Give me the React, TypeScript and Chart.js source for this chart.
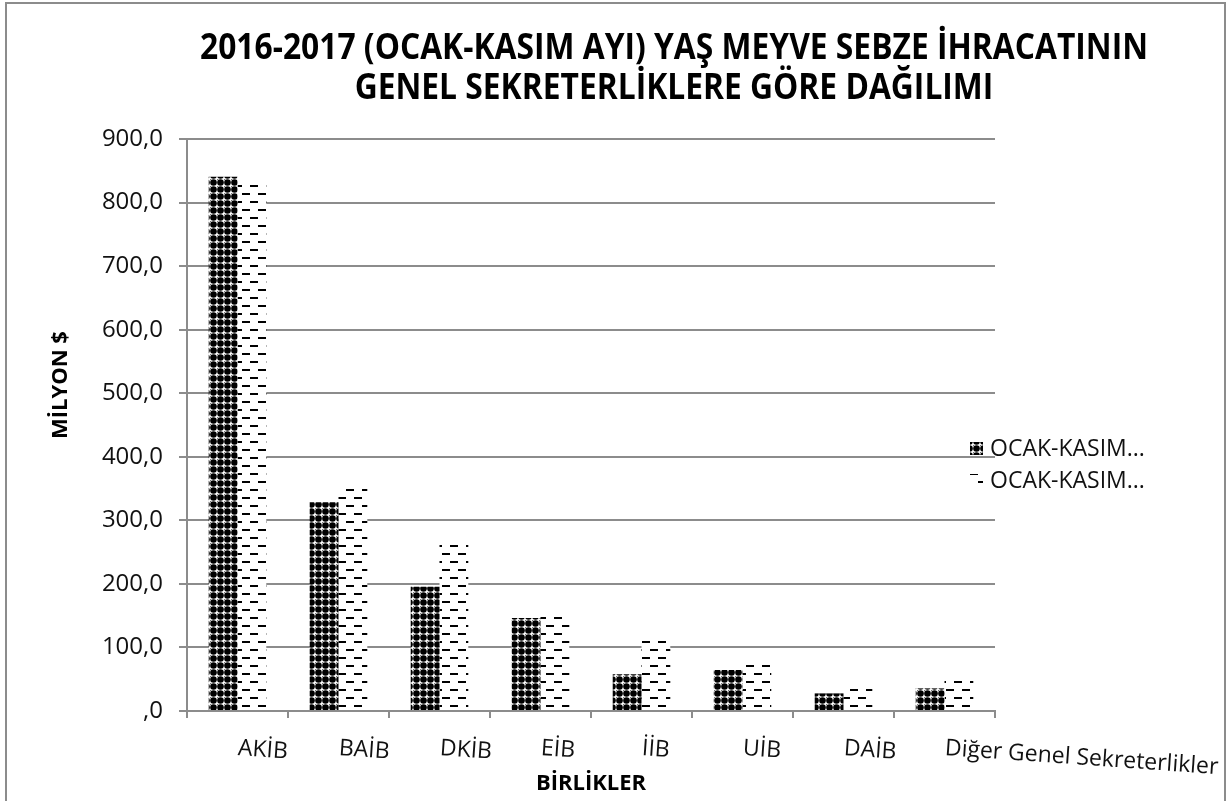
import React, { useEffect, useRef } from 'react';
import { Chart, registerables } from 'chart.js';

Chart.register(...registerables);

const categories = ['AKİB', 'BAİB', 'DKİB', 'EİB', 'İİB', 'UİB', 'DAİB', 'Diğer Genel Sekreterlikler'];
const seriesNames = ['OCAK-KASIM 2016', 'OCAK-KASIM 2017'];
const legendTexts = ['OCAK-KASIM...', 'OCAK-KASIM...'];
const values2016 = [840.7, 328.5, 195.5, 146.5, 57.7, 64.4, 27.7, 35.6];
const values2017 = [833, 353, 263, 151, 114, 76, 38, 51];
const yMin = 0;
const yMax = 900;
const yStep = 100;
const titleLines = [
  '2016-2017 (OCAK-KASIM AYI) YAŞ MEYVE SEBZE İHRACATININ',
  'GENEL SEKRETERLİKLERE GÖRE DAĞILIMI',
];
const xAxisTitle = 'BİRLİKLER';
const yAxisTitle = 'MİLYON $';

const FONT = '"Open Sans", sans-serif';
const W = 1217;
const H = 797;
const GRID = '#8c8c8c';

function checkPattern(ctx: CanvasRenderingContext2D): CanvasPattern {
  const c = document.createElement('canvas');
  c.width = 7;
  c.height = 7;
  const g = c.getContext('2d')!;
  g.fillStyle = '#ffffff';
  g.fillRect(0, 0, 7, 7);
  g.fillStyle = '#000000';
  g.beginPath();
  g.arc(3.5, 3.5, 3.3, 0, Math.PI * 2);
  g.fill();
  g.fillStyle = '#777777';
  g.fillRect(0, 0, 1, 1);
  return ctx.createPattern(c, 'repeat')!;
}

function dashPattern(ctx: CanvasRenderingContext2D): CanvasPattern {
  const c = document.createElement('canvas');
  c.width = 16;
  c.height = 16;
  const g = c.getContext('2d')!;
  g.fillStyle = '#ffffff';
  g.fillRect(0, 0, 16, 16);
  g.fillStyle = '#000000';
  g.fillRect(3, 5, 8, 2);
  g.fillRect(11, 13, 5, 2);
  g.fillRect(0, 13, 3, 2);
  return ctx.createPattern(c, 'repeat')!;
}

function fmt(v: number): string {
  if (v === 0) return ',0';
  return v.toFixed(1).replace('.', ',');
}

export default function App() {
  const ref = useRef<HTMLCanvasElement>(null);

  useEffect(() => {
    const canvas = ref.current!;
    const ctx = canvas.getContext('2d')!;
    const p16 = checkPattern(ctx);
    const p17 = dashPattern(ctx);
    const patterns = [p16, p17];

    const overlay = {
      id: 'overlay',
      afterDraw(chart: any) {
        const c = chart.ctx as CanvasRenderingContext2D;
        const area = chart.chartArea;
        const xs = chart.scales.x;
        c.save();
        // title (slightly condensed bold)
        c.fillStyle = '#000';
        c.font = `bold 35px ${FONT}`;
        c.textAlign = 'center';
        c.textBaseline = 'alphabetic';
        const sx = 948 / c.measureText(titleLines[0]).width;
        c.save();
        c.translate(667, 0);
        c.scale(sx, 1);
        c.fillText(titleLines[0], 0, 55);
        c.fillText(titleLines[1], 0, 95);
        c.restore();
        // y axis title
        c.save();
        c.translate(54, 381);
        c.rotate(-Math.PI / 2);
        c.font = `bold 22px ${FONT}`;
        c.textAlign = 'center';
        c.textBaseline = 'middle';
        c.fillText(yAxisTitle, 0, 0);
        c.restore();
        // x labels (slightly rotated)
        c.font = `23px ${FONT}`;
        c.fillStyle = '#111';
        c.textAlign = 'left';
        c.textBaseline = 'alphabetic';
        categories.forEach((lab, i) => {
          const x = xs.getPixelForValue(i);
          c.save();
          c.translate(x, area.bottom + 44);
          c.rotate((4 * Math.PI) / 180);
          c.fillText(lab, 0, 0);
          c.restore();
        });
        // legend
        const lx = area.right - 25;
        const rows = [445, 477];
        c.font = `23px ${FONT}`;
        c.textBaseline = 'middle';
        legendTexts.forEach((t, i) => {
          c.fillStyle = patterns[i];
          c.fillRect(lx, rows[i] - 7, 13, 13);
          c.fillStyle = '#111';
          c.fillText(t, lx + 20, rows[i]);
        });
        c.restore();
      },
    };

    const chart = new Chart(ctx, {
      type: 'bar',
      data: {
        labels: categories,
        datasets: [
          {
            label: seriesNames[0],
            data: values2016,
            backgroundColor: p16,
            borderWidth: 0,
            categoryPercentage: 0.57,
            barPercentage: 1.0,
          },
          {
            label: seriesNames[1],
            data: values2017,
            backgroundColor: p17,
            borderWidth: 0,
            categoryPercentage: 0.57,
            barPercentage: 1.0,
          },
        ],
      },
      options: {
        responsive: false,
        animation: false,
        events: [],
        layout: { padding: { top: 135, right: 229, bottom: 0, left: 0 } },
        plugins: {
          legend: { display: false },
          title: { display: false },
          tooltip: { enabled: false },
        },
        scales: {
          x: {
            afterFit(scale: any) {
              scale.height = 90;
            },
            grid: {
              display: true,
              drawOnChartArea: false,
              drawTicks: true,
              tickLength: 7,
              color: GRID,
              lineWidth: 2,
            },
            border: { display: true, color: GRID, width: 2 },
            ticks: { display: false },
            title: {
              display: true,
              text: xAxisTitle,
              color: '#000',
              font: { family: FONT, size: 22, weight: 'bold' },
              padding: { top: 0, bottom: 4 },
            },
          },
          y: {
            min: yMin,
            max: yMax,
            afterFit(scale: any) {
              scale.width = 180;
            },
            grid: {
              color: GRID,
              lineWidth: 2,
              drawTicks: true,
              tickLength: 8,
            },
            border: { display: true, color: GRID, width: 2 },
            ticks: {
              stepSize: yStep,
              padding: 16,
              color: '#111',
              font: { family: FONT, size: 24 },
              callback: (v: any) => fmt(Number(v)),
            },
          },
        },
      },
      plugins: [overlay],
    });
    return () => chart.destroy();
  }, []);

  return (
    <div
      style={{
        position: 'fixed',
        left: 5,
        top: 2,
        width: 1221,
        height: 830,
        border: '2px solid #8c8c8c',
        boxSizing: 'border-box',
        overflow: 'hidden',
        background: '#fff',
      }}
    >
      <canvas ref={ref} width={W} height={H} style={{ display: 'block', width: W, height: H }} />
    </div>
  );
}
